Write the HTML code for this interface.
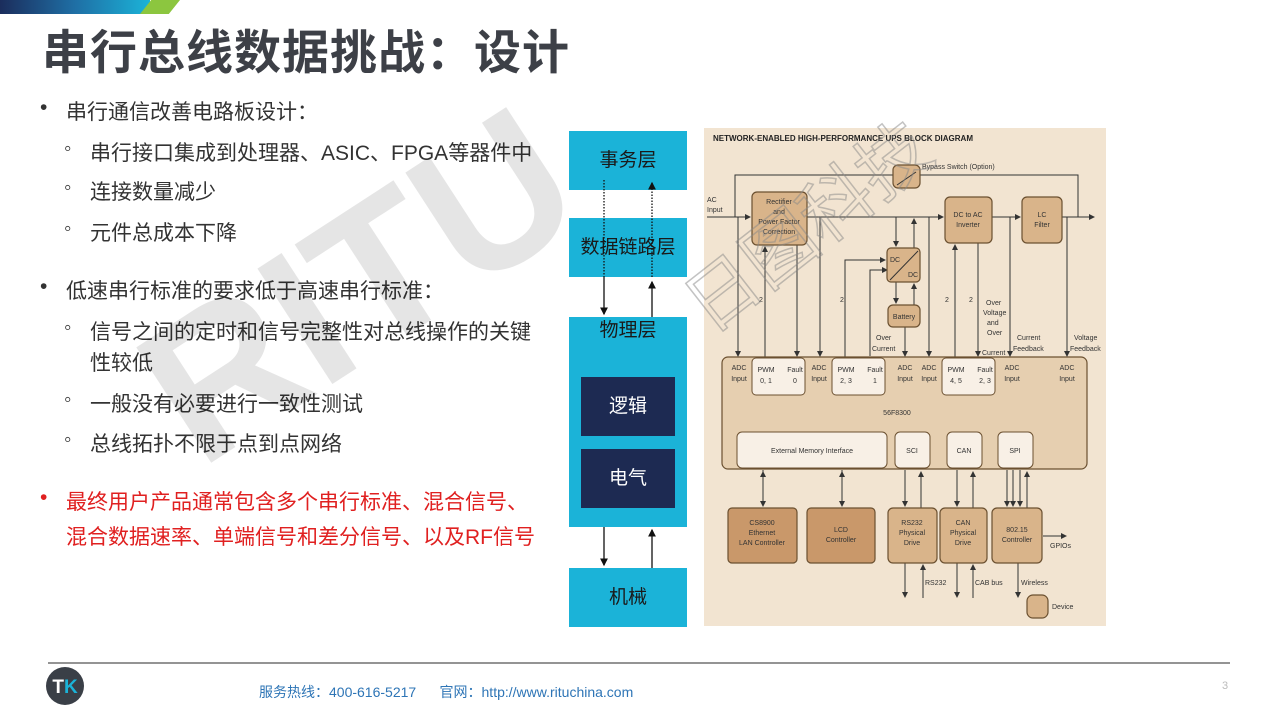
<!DOCTYPE html>
<html><head><meta charset="utf-8"><style>
body{margin:0;width:1280px;height:720px;overflow:hidden;background:#fff;position:relative;font-family:"Liberation Sans","Noto Sans CJK SC",sans-serif;}
.a{position:absolute;white-space:nowrap;}
.t{font-size:21px;color:#333;}
.lay{position:absolute;background:#1bb3d8;color:#1a1a1a;font-size:19px;text-align:center;}
.dk{position:absolute;background:#1d2a52;color:#fff;font-size:19px;text-align:center;}
</style></head><body>
<div class="a" style="left:0;top:0;width:150px;height:14px;background:linear-gradient(90deg,#1b2d5c,#1f6fa5 50%,#1bb3d8)"></div>
<div class="a" style="left:140px;top:0;width:40px;height:14px;background:#8cc63f;clip-path:polygon(28% 0,100% 0,72% 100%,0 100%)"></div>
<div class="a" style="left:42px;top:14px;font-size:47px;font-weight:bold;color:#3d4047;letter-spacing:1px">串行总线数据挑战：设计</div>

<div class="a t" style="left:40px;top:96px">•</div><div class="a t" style="left:66px;top:96px">串行通信改善电路板设计：</div>
<div class="a t" style="left:64px;top:137px">◦</div><div class="a t" style="left:90px;top:137px">串行接口集成到处理器、ASIC、FPGA等器件中</div>
<div class="a t" style="left:64px;top:176px">◦</div><div class="a t" style="left:90px;top:176px">连接数量减少</div>
<div class="a t" style="left:64px;top:217px">◦</div><div class="a t" style="left:90px;top:217px">元件总成本下降</div>
<div class="a t" style="left:40px;top:275px">•</div><div class="a t" style="left:66px;top:275px">低速串行标准的要求低于高速串行标准：</div>
<div class="a t" style="left:64px;top:316px">◦</div><div class="a t" style="left:90px;top:316px">信号之间的定时和信号完整性对总线操作的关键</div>
<div class="a t" style="left:90px;top:347px">性较低</div>
<div class="a t" style="left:64px;top:388px">◦</div><div class="a t" style="left:90px;top:388px">一般没有必要进行一致性测试</div>
<div class="a t" style="left:64px;top:428px">◦</div><div class="a t" style="left:90px;top:428px">总线拓扑不限于点到点网络</div>
<div class="a t" style="left:40px;top:486px;color:#e02020">•</div><div class="a t" style="left:66px;top:486px;color:#e02020">最终用户产品通常包含多个串行标准、混合信号、</div>
<div class="a t" style="left:66px;top:521px;color:#e02020">混合数据速率、单端信号和差分信号、以及RF信号</div>

<div class="lay" style="left:569px;top:131px;width:118px;height:59px;line-height:59px">事务层</div>
<div class="lay" style="left:569px;top:218px;width:118px;height:59px;line-height:59px">数据链路层</div>
<div class="lay" style="left:569px;top:317px;width:118px;height:210px;line-height:28px">物理层</div>
<div class="dk" style="left:581px;top:377px;width:94px;height:59px;line-height:59px">逻辑</div>
<div class="dk" style="left:581px;top:449px;width:94px;height:59px;line-height:59px">电气</div>
<div class="lay" style="left:569px;top:568px;width:118px;height:59px;line-height:59px">机械</div>
<svg class="a" style="left:0;top:0" width="1280" height="720">
<defs><marker id="m" markerWidth="6" markerHeight="6" refX="5" refY="3" orient="auto"><path d="M0,0L6,3L0,6z" fill="#111"/></marker>
<marker id="s" markerWidth="6" markerHeight="6" refX="5" refY="3" orient="auto"><path d="M0,0L6,3L0,6z" fill="#333"/></marker></defs>
<g stroke="#111" stroke-width="1.3">
<line x1="604" y1="180" x2="604" y2="277" stroke-dasharray="1.5,1.5"/>
<line x1="604" y1="277" x2="604" y2="314" marker-end="url(#m)"/>
<line x1="652" y1="277" x2="652" y2="183" stroke-dasharray="1.5,1.5" marker-end="url(#m)"/>
<line x1="652" y1="317" x2="652" y2="282" marker-end="url(#m)"/>
<line x1="604" y1="527" x2="604" y2="565" marker-end="url(#m)"/>
<line x1="652" y1="568" x2="652" y2="530" marker-end="url(#m)"/>
</g>
<rect x="704" y="128" width="402" height="498" fill="#f2e4d1"/>
<text x="713" y="141" font-size="8" font-weight="bold" fill="#222" font-family="Liberation Sans">NETWORK-ENABLED HIGH-PERFORMANCE UPS BLOCK DIAGRAM</text>
<g stroke="#333" stroke-width="1" fill="none">
<polyline points="735,217 735,175 1078,175 1078,217"/>
<line x1="707" y1="217" x2="750" y2="217" marker-end="url(#s)"/>
<line x1="807" y1="217" x2="943" y2="217" marker-end="url(#s)"/>
<line x1="992" y1="217" x2="1020" y2="217" marker-end="url(#s)"/>
<line x1="1062" y1="217" x2="1094" y2="217" marker-end="url(#s)"/>
<line x1="738" y1="217" x2="738" y2="356" marker-end="url(#s)"/>
<line x1="797" y1="245" x2="797" y2="356" marker-end="url(#s)"/>
<line x1="765" y1="357" x2="765" y2="247" marker-end="url(#s)"/>
<line x1="820" y1="217" x2="820" y2="356" marker-end="url(#s)"/>
<polyline points="845,357 845,260 885,260" marker-end="url(#s)"/>
<polyline points="870,356 870,270 887,270" marker-end="url(#s)"/>
<line x1="896" y1="217" x2="896" y2="246" marker-end="url(#s)"/>
<line x1="914" y1="248" x2="914" y2="219" marker-end="url(#s)"/>
<line x1="896" y1="282" x2="896" y2="303" marker-end="url(#s)"/>
<line x1="914" y1="305" x2="914" y2="284" marker-end="url(#s)"/>
<line x1="905" y1="327" x2="905" y2="356" marker-end="url(#s)"/>
<line x1="929" y1="217" x2="929" y2="356" marker-end="url(#s)"/>
<line x1="955" y1="357" x2="955" y2="245" marker-end="url(#s)"/>
<line x1="978" y1="243" x2="978" y2="356" marker-end="url(#s)"/>
<line x1="1010" y1="217" x2="1010" y2="356" marker-end="url(#s)"/>
<line x1="1067" y1="217" x2="1067" y2="356" marker-end="url(#s)"/>
<line x1="763" y1="470" x2="763" y2="506" marker-end="url(#s)"/><line x1="763" y1="506" x2="763" y2="472" marker-end="url(#s)"/>
<line x1="842" y1="470" x2="842" y2="506" marker-end="url(#s)"/><line x1="842" y1="506" x2="842" y2="472" marker-end="url(#s)"/>
<line x1="905" y1="470" x2="905" y2="506" marker-end="url(#s)"/><line x1="921" y1="508" x2="921" y2="472" marker-end="url(#s)"/>
<line x1="957" y1="470" x2="957" y2="506" marker-end="url(#s)"/><line x1="973" y1="508" x2="973" y2="472" marker-end="url(#s)"/>
<line x1="1007" y1="470" x2="1007" y2="506" marker-end="url(#s)"/><line x1="1013" y1="470" x2="1013" y2="506" marker-end="url(#s)"/><line x1="1020" y1="470" x2="1020" y2="506" marker-end="url(#s)"/><line x1="1027" y1="508" x2="1027" y2="472" marker-end="url(#s)"/>
<line x1="905" y1="563" x2="905" y2="597" marker-end="url(#s)"/><line x1="923" y1="598" x2="923" y2="565" marker-end="url(#s)"/>
<line x1="957" y1="563" x2="957" y2="597" marker-end="url(#s)"/><line x1="973" y1="598" x2="973" y2="565" marker-end="url(#s)"/>
<line x1="1018" y1="563" x2="1018" y2="597" marker-end="url(#s)"/>
<line x1="1043" y1="536" x2="1066" y2="536" marker-end="url(#s)"/>
</g>
<g fill="#d9b48a" stroke="#6b5030" stroke-width="1.2">
<rect x="893" y="165" width="27" height="23" rx="5"/>
<rect x="752" y="192" width="55" height="53" rx="5"/>
<rect x="945" y="197" width="47" height="46" rx="5"/>
<rect x="1022" y="197" width="40" height="46" rx="5"/>
<rect x="887" y="248" width="33" height="34" rx="4"/>
<rect x="888" y="305" width="32" height="22" rx="5"/>
<rect x="722" y="357" width="365" height="112" rx="6" fill="#e6cfb0"/>
<rect x="728" y="508" width="69" height="55" rx="4" fill="#c9986a"/>
<rect x="807" y="508" width="68" height="55" rx="4" fill="#c9986a"/>
<rect x="888" y="508" width="49" height="55" rx="5"/>
<rect x="940" y="508" width="47" height="55" rx="5"/>
<rect x="992" y="508" width="50" height="55" rx="5"/>
<rect x="1027" y="595" width="21" height="23" rx="6"/>
</g>
<g fill="#f8f0e6" stroke="#6b5030" stroke-width="1">
<rect x="752" y="358" width="53" height="37" rx="4"/><rect x="832" y="358" width="53" height="37" rx="4"/><rect x="942" y="358" width="53" height="37" rx="4"/>
<rect x="737" y="432" width="150" height="36" rx="5"/><rect x="895" y="432" width="35" height="36" rx="5"/><rect x="947" y="432" width="35" height="36" rx="5"/><rect x="998" y="432" width="35" height="36" rx="5"/>
</g>
<line x1="897" y1="185" x2="916" y2="172" stroke="#333"/><line x1="890" y1="280" x2="918" y2="251" stroke="#333"/>
<g font-family="Liberation Sans" font-size="7" fill="#333" text-anchor="middle">
<text x="779" y="204">Rectifier</text><text x="779" y="214">and</text><text x="779" y="224">Power Factor</text><text x="779" y="234">Correction</text>
<text x="968" y="217">DC to AC</text><text x="968" y="227">Inverter</text>
<text x="1042" y="217">LC</text><text x="1042" y="227">Filter</text>
<text x="904" y="325" dy="-6">Battery</text>
<text x="812" y="453">External Memory Interface</text><text x="912" y="453">SCI</text><text x="964" y="453">CAN</text><text x="1015" y="453">SPI</text>
<text x="897" y="415">56F8300</text>
<text x="762" y="525">CS8900</text><text x="762" y="535">Ethernet</text><text x="762" y="545">LAN Controller</text>
<text x="841" y="532">LCD</text><text x="841" y="542">Controller</text>
<text x="912" y="525">RS232</text><text x="912" y="535">Physical</text><text x="912" y="545">Drive</text>
<text x="963" y="525">CAN</text><text x="963" y="535">Physical</text><text x="963" y="545">Drive</text>
<text x="1017" y="532">802.15</text><text x="1017" y="542">Controller</text>
<text x="739" y="370">ADC</text><text x="739" y="381">Input</text>
<text x="819" y="370">ADC</text><text x="819" y="381">Input</text>
<text x="905" y="370">ADC</text><text x="905" y="381">Input</text>
<text x="929" y="370">ADC</text><text x="929" y="381">Input</text>
<text x="1012" y="370">ADC</text><text x="1012" y="381">Input</text>
<text x="1067" y="370">ADC</text><text x="1067" y="381">Input</text>
<text x="766" y="372">PWM</text><text x="766" y="383">0, 1</text><text x="795" y="372">Fault</text><text x="795" y="383">0</text>
<text x="846" y="372">PWM</text><text x="846" y="383">2, 3</text><text x="875" y="372">Fault</text><text x="875" y="383">1</text>
<text x="956" y="372">PWM</text><text x="956" y="383">4, 5</text><text x="985" y="372">Fault</text><text x="985" y="383">2, 3</text>
</g>
<g font-family="Liberation Sans" font-size="7" fill="#333">
<text x="922" y="169">Bypass Switch (Option)</text><text x="707" y="202">AC</text><text x="707" y="212">Input</text>
<text x="890" y="262">DC</text><text x="908" y="277">DC</text>
<text x="876" y="340">Over</text><text x="872" y="351">Current</text>
<text x="986" y="305">Over</text><text x="983" y="315">Voltage</text><text x="987" y="325">and</text><text x="987" y="335">Over</text><text x="982" y="355">Current</text>
<text x="1017" y="340">Current</text><text x="1013" y="351">Feedback</text>
<text x="1074" y="340">Voltage</text><text x="1070" y="351">Feedback</text>
<text x="925" y="585">RS232</text><text x="975" y="585">CAB bus</text><text x="1021" y="585">Wireless</text>
<text x="1052" y="609">Device</text><text x="1050" y="548">GPIOs</text>
<text x="759" y="302">2</text><text x="840" y="302">2</text><text x="945" y="302">2</text><text x="969" y="302">2</text>
</g>
<text x="0" y="0" transform="translate(200,470) rotate(-33)" font-family="Liberation Sans" font-weight="bold" font-size="200" fill="#000" fill-opacity="0.1">RITU</text>
<text x="0" y="0" transform="translate(710,335) rotate(-38)" font-family="Noto Sans CJK SC" font-size="72" fill="none" stroke="#888" stroke-opacity="0.5" stroke-width="1.5">日图科技</text>
<line x1="48" y1="663" x2="1230" y2="663" stroke="#555" stroke-width="1.2"/>
<circle cx="65" cy="686" r="19" fill="#3a3f47"/>
<text x="65" y="693" text-anchor="middle" font-family="Liberation Sans" font-weight="bold" font-size="19" fill="#fff">T<tspan fill="#1bb3d8">K</tspan></text>
</svg>
<div class="a" style="left:259px;top:682px;font-size:14px;color:#2e75b6">服务热线：400-616-5217&nbsp;&nbsp;&nbsp;&nbsp;&nbsp;&nbsp;官网：http://www.rituchina.com</div>
<div class="a" style="left:1222px;top:680px;font-size:11px;color:#bbb">3</div>
</body></html>
